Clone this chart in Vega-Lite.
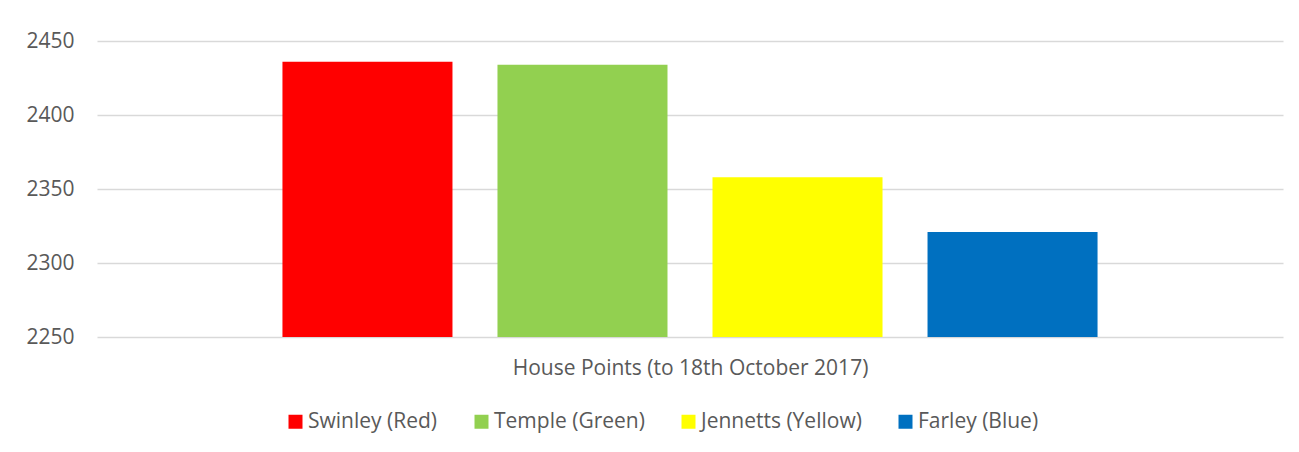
{
  "$schema": "https://vega.github.io/schema/vega-lite/v6.json",
  "width": 1186,
  "height": 296,
  "autosize": {"type": "none"},
  "padding": {"left": 97, "top": 41, "right": 16, "bottom": 115},
  "background": "#ffffff",
  "config": {
    "view": {"stroke": null},
    "font": "Open Sans"
  },
  "data": {
    "values": [
      {"category": "House Points (to 18th October 2017)", "house": "Swinley (Red)", "points": 2436},
      {"category": "House Points (to 18th October 2017)", "house": "Temple (Green)", "points": 2434},
      {"category": "House Points (to 18th October 2017)", "house": "Jennetts (Yellow)", "points": 2358},
      {"category": "House Points (to 18th October 2017)", "house": "Farley (Blue)", "points": 2321}
    ]
  },
  "mark": {"type": "bar", "clip": true},
  "encoding": {
    "x": {
      "field": "house",
      "type": "nominal",
      "sort": null,
      "scale": {"paddingInner": 0.2093, "paddingOuter": 0.8625},
      "axis": {
        "title": "House Points (to 18th October 2017)",
        "labels": false,
        "ticks": false,
        "domain": false,
        "titleFont": "Open Sans",
        "titleFontSize": 21,
        "titleFontWeight": "normal",
        "titleColor": "#595959",
        "titlePadding": 20
      }
    },
    "y": {
      "field": "points",
      "type": "quantitative",
      "scale": {"domain": [2250, 2450], "zero": false, "nice": false},
      "axis": {
        "title": null,
        "format": "d",
        "values": [2250, 2300, 2350, 2400, 2450],
        "ticks": false,
        "domain": false,
        "labelFont": "Open Sans",
        "labelFontSize": 21,
        "labelColor": "#595959",
        "labelPadding": 23,
        "gridColor": "#d9d9d9",
        "gridWidth": 1.4
      }
    },
    "color": {
      "field": "house",
      "type": "nominal",
      "sort": null,
      "scale": {
        "domain": ["Swinley (Red)", "Temple (Green)", "Jennetts (Yellow)", "Farley (Blue)"],
        "range": ["#ff0000", "#92d050", "#ffff00", "#0070c0"]
      },
      "legend": {
        "title": null,
        "orient": "none",
        "direction": "horizontal",
        "legendX": 188,
        "legendY": 370,
        "padding": 0,
        "symbolType": "square",
        "symbolSize": 196,
        "symbolStrokeWidth": 0,
        "labelFont": "Open Sans",
        "labelFontSize": 21,
        "labelColor": "#595959",
        "labelOffset": 2,
        "columnPadding": 33,
        "labelLimit": 400
      }
    }
  }
}
